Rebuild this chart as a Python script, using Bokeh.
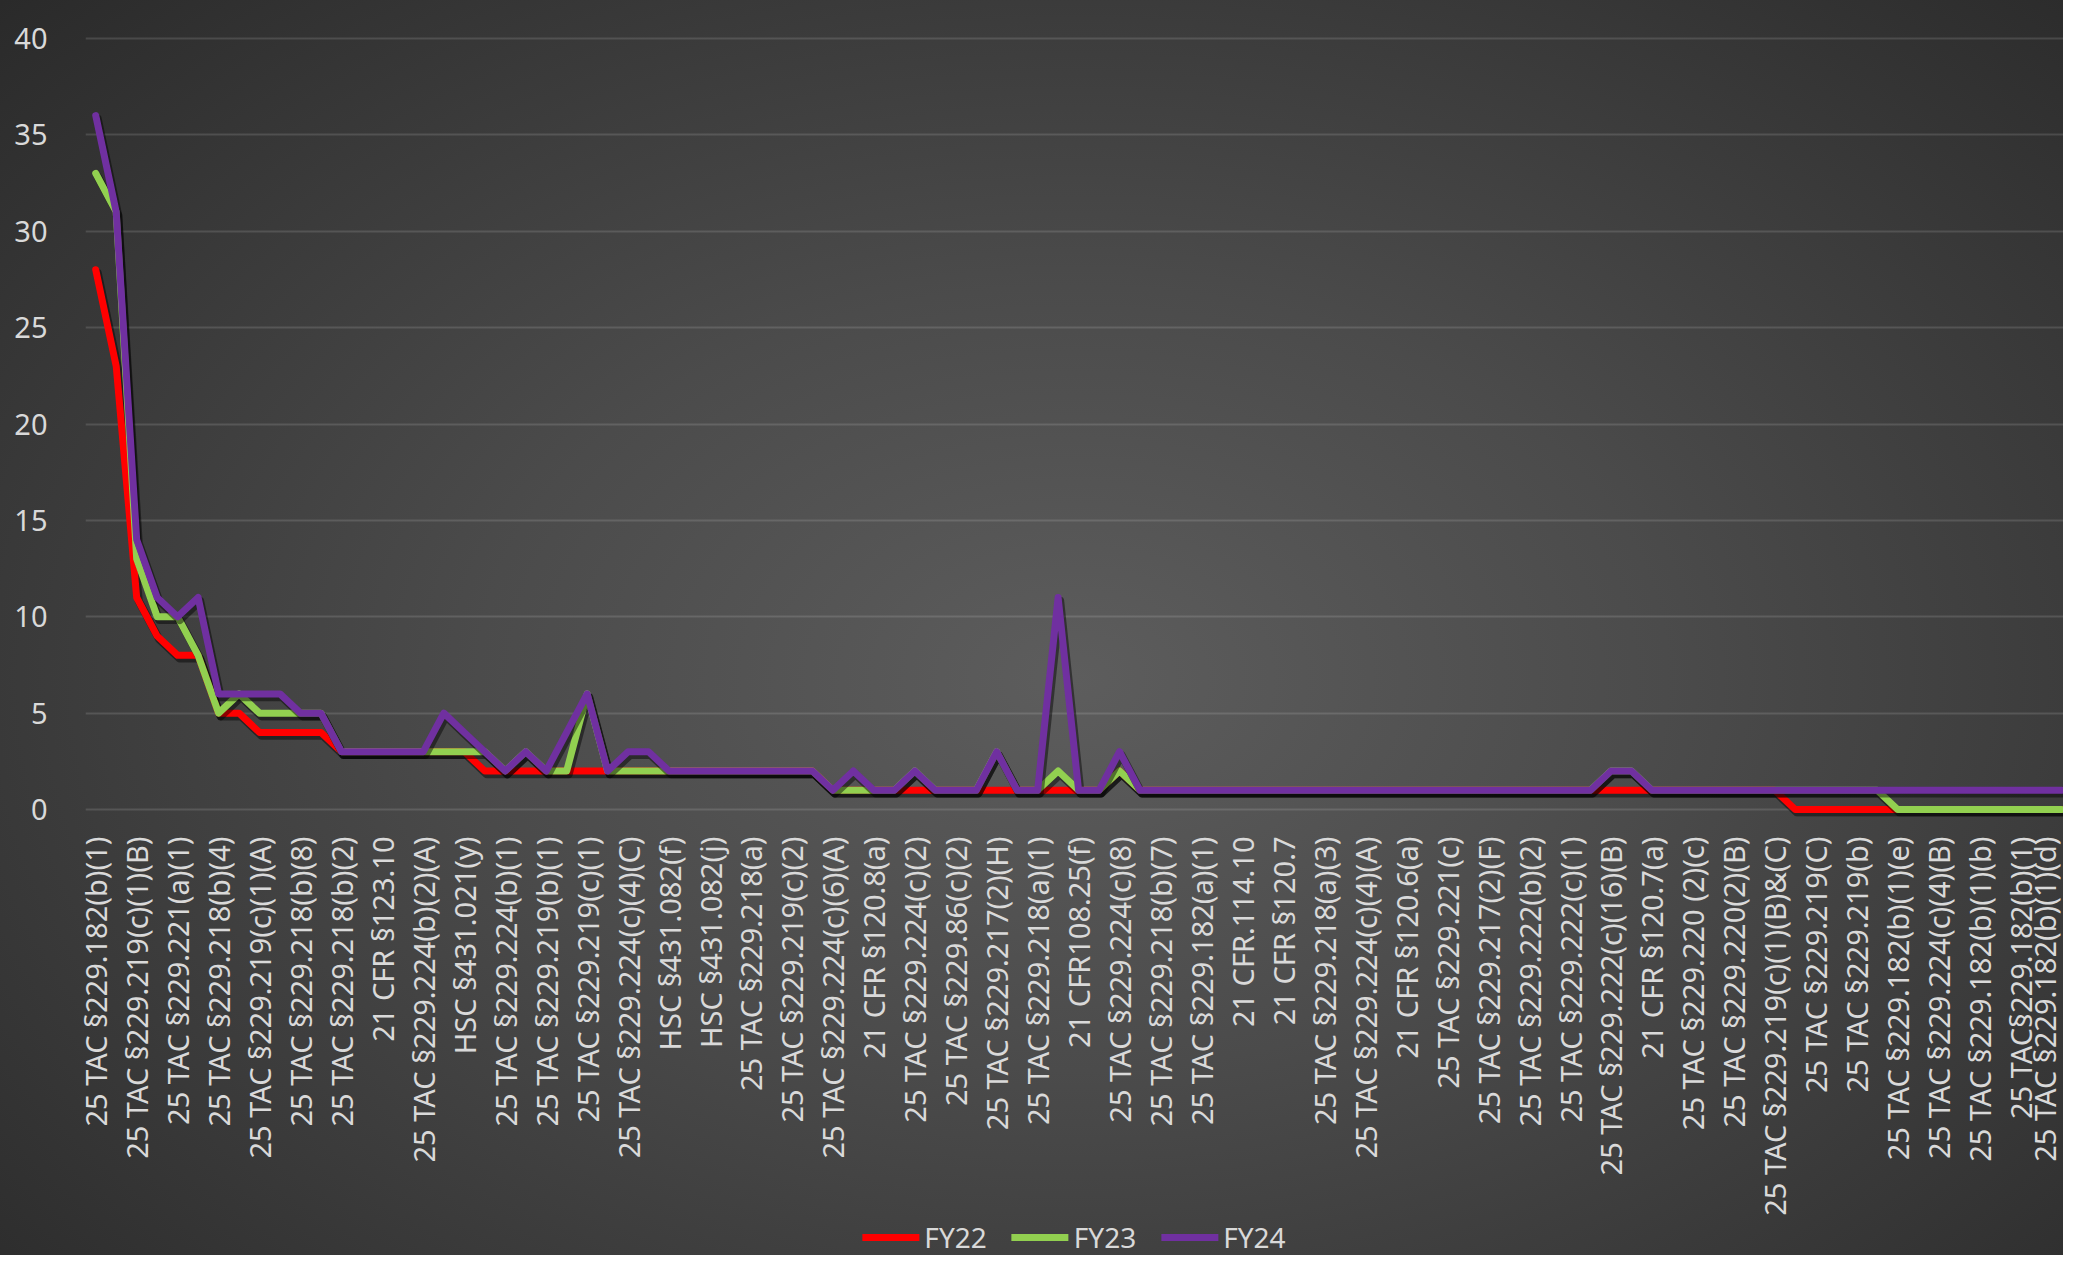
from bokeh.plotting import figure
from bokeh.layouts import column
from bokeh.models import FixedTicker, Range1d, Legend, LegendItem, ColumnDataSource
from bokeh.transform import dodge
from bokeh.embed import file_html
from bokeh.resources import INLINE
import math

# ---------------- data ----------------
tick_labels = [
    "25 TAC §229.182(b)(1)", "25 TAC §229.219(c)(1)(B)", "25 TAC §229.221(a)(1)",
    "25 TAC §229.218(b)(4)", "25 TAC §229.219(c)(1)(A)", "25 TAC §229.218(b)(8)",
    "25 TAC §229.218(b)(2)", "21 CFR §123.10", "25 TAC §229.224(b)(2)(A)",
    "HSC §431.021(y)", "25 TAC §229.224(b)(1)", "25 TAC §229.219(b)(1)",
    "25 TAC §229.219(c)(1)", "25 TAC §229.224(c)(4)(C)", "HSC §431.082(f)",
    "HSC §431.082(j)", "25 TAC §229.218(a)", "25 TAC §229.219(c)(2)",
    "25 TAC §229.224(c)(6)(A)", "21 CFR §120.8(a)", "25 TAC §229.224(c)(2)",
    "25 TAC §229.86(c)(2)", "25 TAC §229.217(2)(H)", "25 TAC §229.218(a)(1)",
    "21 CFR108.25(f)", "25 TAC §229.224(c)(8)", "25 TAC §229.218(b)(7)",
    "25 TAC §229.182(a)(1)", "21 CFR.114.10", "21 CFR §120.7",
    "25 TAC §229.218(a)(3)", "25 TAC §229.224(c)(4)(A)", "21 CFR §120.6(a)",
    "25 TAC §229.221(c)", "25 TAC §229.217(2)(F)", "25 TAC §229.222(b)(2)",
    "25 TAC §229.222(c)(1)", "25 TAC §229.222(c)(16)(B)", "21 CFR §120.7(a)",
    "25 TAC §229.220 (2)(c)", "25 TAC §229.220(2)(B)", "25 TAC §229.219(c)(1)(B)&(C)",
    "25 TAC §229.219(C)", "25 TAC §229.219(b)", "25 TAC §229.182(b)(1)(e)",
    "25 TAC §229.224(c)(4)(B)", "25 TAC §229.182(b)(1)(b)", "25 TAC§229.182(b)(1)",
    "25 TAC §229.182(b)(1)(d)",
]

fy22 = [28, 23, 11, 9, 8, 8, 5, 5, 4, 4, 4, 4, 3, 3, 3, 3, 3, 3, 3, 2,
        2, 2, 2, 2, 2, 2, 2, 2, 2, 2, 2, 2, 2, 2, 2, 2, 1, 1, 1, 1,
        1, 1, 1, 1, 1, 1, 1, 1, 1, 1, 2, 1, 1, 1, 1, 1, 1, 1, 1, 1,
        1, 1, 1, 1, 1, 1, 1, 1, 1, 1, 1, 1, 1, 1, 1, 1, 1, 1, 1, 1,
        1, 1, 1, 0, 0, 0, 0, 0, 0, 0, 0, 0, 0, 0, 0, 0, 0]
fy23 = [33, 31, 13, 10, 10, 8, 5, 6, 5, 5, 5, 5, 3, 3, 3, 3, 3, 3, 3, 3,
        2, 3, 2, 2, 6, 2, 2, 2, 2, 2, 2, 2, 2, 2, 2, 2, 1, 1, 1, 1,
        2, 1, 1, 1, 3, 1, 1, 2, 1, 1, 2, 1, 1, 1, 1, 1, 1, 1, 1, 1,
        1, 1, 1, 1, 1, 1, 1, 1, 1, 1, 1, 1, 1, 1, 2, 2, 1, 1, 1, 1,
        1, 1, 1, 1, 1, 1, 1, 1, 0, 0, 0, 0, 0, 0, 0, 0, 0]
fy24 = [36, 31, 14, 11, 10, 11, 6, 6, 6, 6, 5, 5, 3, 3, 3, 3, 3, 5, 4, 3,
        2, 3, 2, 4, 6, 2, 3, 3, 2, 2, 2, 2, 2, 2, 2, 2, 1, 2, 1, 1,
        2, 1, 1, 1, 3, 1, 1, 11, 1, 1, 3, 1, 1, 1, 1, 1, 1, 1, 1, 1,
        1, 1, 1, 1, 1, 1, 1, 1, 1, 1, 1, 1, 1, 1, 2, 2, 1, 1, 1, 1,
        1, 1, 1, 1, 1, 1, 1, 1, 1, 1, 1, 1, 1, 1, 1, 1, 1]

series_names = ["FY22", "FY23", "FY24"]
series_colors = ["#FF0000", "#92D050", "#7030A0"]

idx = list(range(len(fy22)))
src = ColumnDataSource(dict(x=idx, FY22=fy22, FY23=fy23, FY24=fy24))

W, H_MAIN, H_LEG = 2063, 1218, 37
GRAD = "radial-gradient(ellipse 1485px 979px at 1073px {cy}px, #5d5d5d 0%, #4b4b4b 40%, #2a2a2a 100%)"

# ---------------- main figure ----------------
p = figure(width=W, height=H_MAIN, output_backend="svg", toolbar_location=None,
           x_range=Range1d(-0.5, len(idx) - 0.9), y_range=Range1d(-0.36, 40.36),
           min_border_left=85, min_border_right=0, min_border_top=31,
           min_border_bottom=H_MAIN - 817)
p.styles = {"background": GRAD.format(cy=678)}
p.background_fill_alpha = 0
p.border_fill_alpha = 0
p.outline_line_color = None

for name, col in zip(series_names, series_colors):
    p.line(x=dodge("x", 0.1), y=dodge(name, -0.17), source=src, line_color="black",
           line_alpha=0.45, line_width=8, line_join="round", line_cap="round")
    p.line(x="x", y=name, source=src, line_color=col, line_width=7,
           line_join="round", line_cap="round")

p.xaxis.ticker = FixedTicker(ticks=idx[::2])
p.xaxis.major_label_overrides = {i: lab for i, lab in zip(idx[::2], tick_labels)}
p.xaxis.major_label_orientation = math.pi / 2
p.xaxis.axis_line_color = None
p.xaxis.major_tick_line_color = None
p.xaxis.minor_tick_line_color = None
p.xaxis.major_label_standoff = 14
p.xaxis.major_label_text_font = "Noto Sans"
p.xaxis.major_label_text_font_size = "29px"
p.xaxis.major_label_text_color = "#d9d9d9"

p.yaxis.ticker = FixedTicker(ticks=[0, 5, 10, 15, 20, 25, 30, 35, 40])
p.yaxis.axis_line_color = None
p.yaxis.major_tick_line_color = None
p.yaxis.minor_tick_line_color = None
p.yaxis.major_label_standoff = 32
p.yaxis.major_label_text_font = "Noto Sans"
p.yaxis.major_label_text_font_size = "29px"
p.yaxis.major_label_text_color = "#d9d9d9"

p.xgrid.grid_line_color = None
p.ygrid.grid_line_color = "#ffffff"
p.ygrid.grid_line_alpha = 0.13
p.ygrid.grid_line_width = 2

# ---------------- legend strip (series drawn out of view, legend only) ----------------
q = figure(width=W, height=H_LEG, output_backend="svg", toolbar_location=None,
           x_range=Range1d(-0.5, len(idx) - 0.9), y_range=Range1d(100, 101),
           x_axis_type=None, y_axis_type=None,
           min_border_left=0, min_border_right=0, min_border_top=0, min_border_bottom=0)
q.styles = {"background": GRAD.format(cy=678 - H_MAIN)}
q.background_fill_alpha = 0
q.border_fill_alpha = 0
q.outline_line_color = None
q.grid.grid_line_color = None

leg_renderers = [q.line(x="x", y=name, source=src, line_color=c, line_width=7,
                        line_cap="round")
                 for name, c in zip(series_names, series_colors)]
legend = Legend(items=[LegendItem(label=n, renderers=[r]) for n, r in zip(series_names, leg_renderers)],
                orientation="horizontal", location="center")
legend.background_fill_alpha = 0
legend.border_line_alpha = 0
legend.label_text_color = "#d9d9d9"
legend.label_text_font = "Noto Sans"
legend.label_text_font_size = "28px"
legend.glyph_width = 57
legend.glyph_height = 30
legend.label_standoff = 5
legend.spacing = 25
legend.padding = 0
legend.margin = 0
q.add_layout(legend, "center")

layout = column(p, q, spacing=0)
open("out.html", "w").write(file_html(layout, INLINE))
